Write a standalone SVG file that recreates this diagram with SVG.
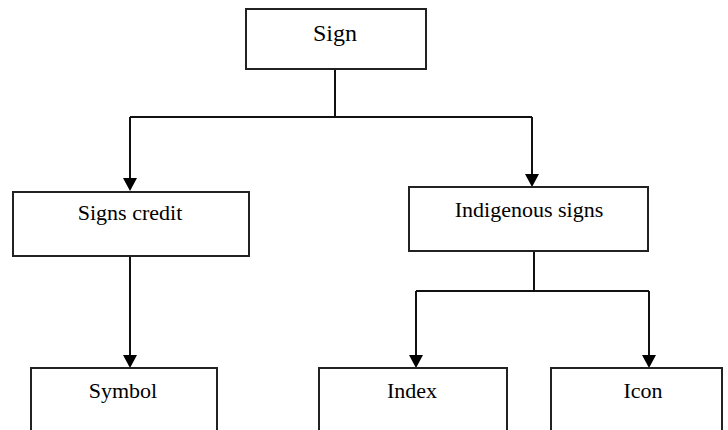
<svg xmlns="http://www.w3.org/2000/svg" width="728" height="430" viewBox="0 0 728 430">
<style>
.box{fill:#fff;stroke:#222;stroke-width:2}
.ln{fill:none;stroke:#111;stroke-width:2}
.t{font-family:"Liberation Serif","Times New Roman",serif;font-size:22px;fill:#000;text-anchor:middle}
</style>
<defs>
<marker id="ah" markerUnits="userSpaceOnUse" markerWidth="14" markerHeight="14" viewBox="0 0 14 14" refX="7" refY="13" orient="auto-start-reverse">
<path d="M0,0 L14,0 L7,13 Z" fill="#000"/>
</marker>
</defs>
<rect width="728" height="430" fill="#fff"/>
<g id="connectors">
<path class="ln" d="M335,69 V117"/>
<path class="ln" d="M130,117 H532"/>
<path class="ln" d="M130,117 V178"/>
<path d="M123,178 L137,178 L130,191 Z" fill="#000"/>
<path class="ln" d="M532,117 V174"/>
<path d="M525,174 L539,174 L532,187 Z" fill="#000"/>
<path class="ln" d="M130,256 V355"/>
<path d="M123,355 L137,355 L130,368 Z" fill="#000"/>
<path class="ln" d="M534,251 V291"/>
<path class="ln" d="M416,291 H649"/>
<path class="ln" d="M416,291 V355"/>
<path d="M409,355 L423,355 L416,368 Z" fill="#000"/>
<path class="ln" d="M649,291 V355"/>
<path d="M642,355 L656,355 L649,368 Z" fill="#000"/>
</g>
<g id="node-sign">
<rect class="box" x="246" y="9" width="180" height="60"/>
<text class="t" x="335" y="41" style="font-size:24px">Sign</text>
</g>
<g id="node-signs-credit">
<rect class="box" x="13" y="192" width="236" height="64"/>
<text class="t" x="130" y="220">Signs credit</text>
</g>
<g id="node-indigenous">
<rect class="box" x="409" y="187" width="239" height="64"/>
<text class="t" x="529" y="217">Indigenous signs</text>
</g>
<g id="node-symbol">
<rect class="box" x="31" y="368" width="186" height="80"/>
<text class="t" x="123" y="398">Symbol</text>
</g>
<g id="node-index">
<rect class="box" x="319" y="368" width="188" height="80"/>
<text class="t" x="412" y="398">Index</text>
</g>
<g id="node-icon">
<rect class="box" x="551" y="368" width="171" height="80"/>
<text class="t" x="643" y="398">Icon</text>
</g>
</svg>
